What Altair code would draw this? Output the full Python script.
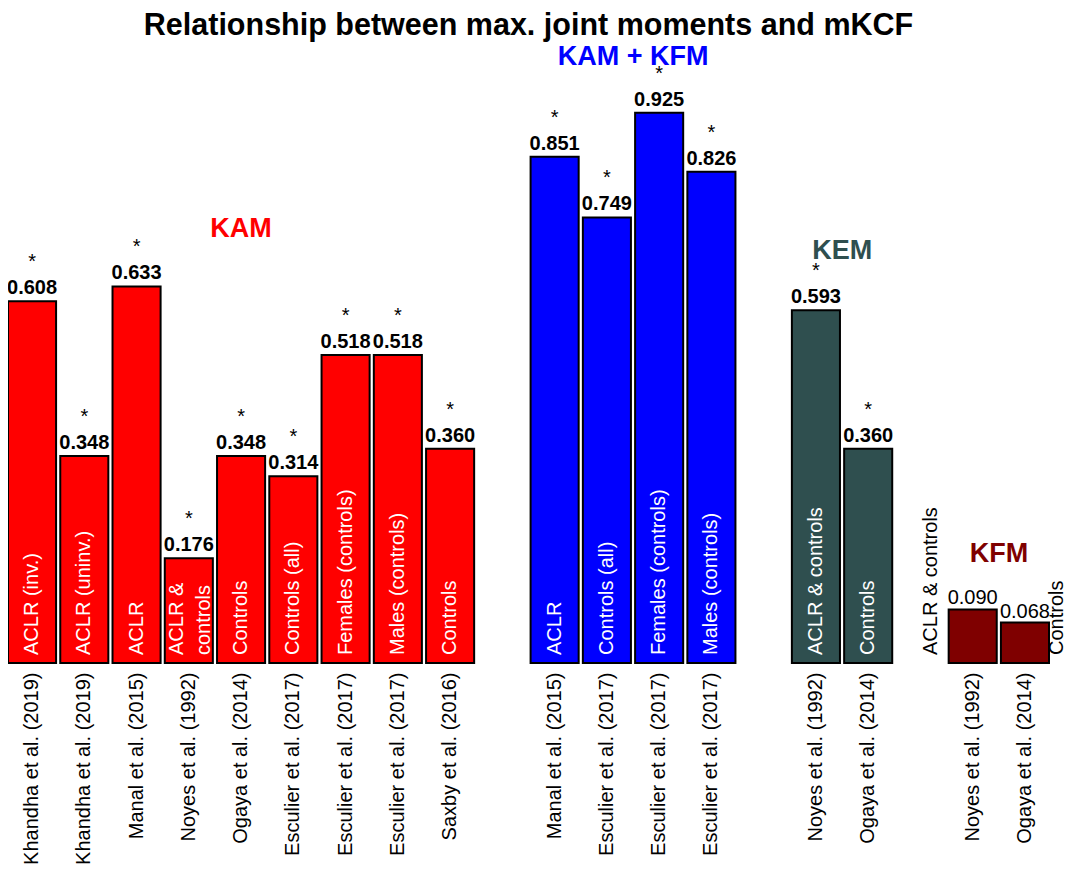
import altair as alt
import pandas as pd

# ---------------- data ----------------
groups = ["KAM"] * 9 + ["KAM + KFM"] * 4 + ["KEM"] * 2 + ["KFM"] * 2
studies = [
    "Khandha et al. (2019)", "Khandha et al. (2019)", "Manal et al. (2015)",
    "Noyes et al. (1992)", "Ogaya et al. (2014)", "Esculier et al. (2017)",
    "Esculier et al. (2017)", "Esculier et al. (2017)", "Saxby et al. (2016)",
    "Manal et al. (2015)", "Esculier et al. (2017)", "Esculier et al. (2017)",
    "Esculier et al. (2017)",
    "Noyes et al. (1992)", "Ogaya et al. (2014)",
    "Noyes et al. (1992)", "Ogaya et al. (2014)",
]
cohorts = [
    "ACLR (inv.)", "ACLR (uninv.)", "ACLR", "ACLR &\ncontrols", "Controls",
    "Controls (all)", "Females (controls)", "Males (controls)", "Controls",
    "ACLR", "Controls (all)", "Females (controls)", "Males (controls)",
    "ACLR & controls", "Controls",
    "ACLR & controls", "Controls",
]
values = [0.608, 0.348, 0.633, 0.176, 0.348, 0.314, 0.518, 0.518, 0.360,
          0.851, 0.749, 0.925, 0.826,
          0.593, 0.360,
          0.090, 0.068]
significant = [True] * 15 + [False] * 2

group_names = ["KAM", "KAM + KFM", "KEM", "KFM"]
group_colors = ["#FF0000", "#0000FF", "#2F4F4F", "#7F0000"]

keys = [f"{g}|{s}|{c}" for g, s, c in zip(groups, studies, cohorts)]
df = pd.DataFrame({
    "key": keys, "group": groups, "study": studies, "cohort": cohorts,
    "value": values, "sig": significant,
    "label": [f"{v:.3f}" for v in values],
})

# x domain: bars grouped, with an empty slot between groups
domain = []
for i, g in enumerate(group_names):
    if i > 0:
        domain.append(f"gap{i}")
    domain += [k for k, gg in zip(keys, groups) if gg == g]

FONT = "Liberation Sans"

x = alt.X(
    "key:N",
    scale=alt.Scale(domain=domain, paddingInner=0.08, paddingOuter=0),
    axis=alt.Axis(
        title=None,
        labelExpr="indexof(datum.value, '|') >= 0 ? split(datum.value, '|')[1] : ''",
        labelAngle=270, labelAlign="right", labelBaseline="middle",
        labelFontSize=20, labelFont=FONT, labelColor="black",
        labelPadding=9, labelLimit=400, ticks=False, domain=False, grid=False,
    ),
)
yscale = alt.Scale(domain=[0, 1.044])
y = alt.Y("value:Q", scale=yscale, axis=None)
color = alt.Color("group:N", scale=alt.Scale(domain=group_names, range=group_colors), legend=None)

base = alt.Chart(df)

bars = base.mark_bar(stroke="black", strokeWidth=2).encode(x=x, y=y, color=color)

val_sig = base.transform_filter("datum.sig").mark_text(
    font=FONT, fontSize=20, fontWeight="bold", baseline="alphabetic", dy=-7, color="black"
).encode(x=x, y=y, text="label:N")

val_ns = base.transform_filter("!datum.sig").mark_text(
    font=FONT, fontSize=20, baseline="alphabetic", dy=-5, color="black"
).encode(x=x, y=y, text="label:N")

stars = base.transform_filter("datum.sig").mark_text(
    text="*", font=FONT, fontSize=20, baseline="alphabetic", dy=-33, color="black"
).encode(x=x, y=y)

y0 = alt.Y(datum=0, scale=yscale)

inside = base.transform_filter(
    "datum.group != 'KFM' && indexof(datum.cohort, '\\n') < 0"
).mark_text(
    font=FONT, fontSize=20, angle=270, align="left", baseline="middle",
    dx=8, color="white"
).encode(x=x, y=y0, text="cohort:N")

inside_2lines = base.transform_filter(
    "datum.group != 'KFM' && indexof(datum.cohort, '\\n') >= 0"
).mark_text(
    font=FONT, fontSize=20, angle=270, align="left", baseline="middle",
    dx=8, dy=-12, color="white", lineBreak="\n", lineHeight=27
).encode(x=x, y=y0, text="cohort:N")

kfm_left = base.transform_filter(
    alt.FieldEqualPredicate(field="key", equal=keys[15])
).mark_text(
    font=FONT, fontSize=20, angle=270, align="left", baseline="middle",
    dx=8, dy=-42, color="black"
).encode(x=x, y=y0, text="cohort:N")

kfm_right = base.transform_filter(
    alt.FieldEqualPredicate(field="key", equal=keys[16])
).mark_text(
    font=FONT, fontSize=20, angle=270, align="left", baseline="middle",
    dx=8, dy=32, color="black"
).encode(x=x, y=y0, text="cohort:N")

one_row = pd.DataFrame({"n": [0]})


def group_label(text, col, anchor_key, yval, dx):
    return alt.Chart(one_row).mark_text(
        text=text, font=FONT, fontSize=27, fontWeight="bold", color=col,
        baseline="alphabetic", dx=dx
    ).encode(x=alt.X(datum=anchor_key), y=alt.Y(datum=yval, scale=yscale))


lab_kam = group_label("KAM", group_colors[0], keys[4], 0.716, 0)
lab_kamkfm = group_label("KAM + KFM", group_colors[1], keys[11], 1.005, -26)
lab_kem = group_label("KEM", group_colors[2], keys[14], 0.679, -26)
lab_kfm = group_label("KFM", group_colors[3], keys[16], 0.170, -26)

chart = alt.layer(
    bars, val_sig, val_ns, stars, inside, inside_2lines, kfm_left, kfm_right,
    lab_kam, lab_kamkfm, lab_kem, lab_kfm,
).properties(
    width=1041, height=621,
    autosize=alt.AutoSizeParams(type="none"),
    padding={"left": 0, "top": 34, "right": 17, "bottom": 205},
    title=alt.Title(
        "Relationship between max. joint moments and mKCF",
        font=FONT, fontSize=30.5, fontWeight="bold", color="black",
        anchor="middle", offset=1,
    ),
).configure_view(stroke=None)

chart.save("out.html", embed_options={"renderer": "svg", "actions": False})
